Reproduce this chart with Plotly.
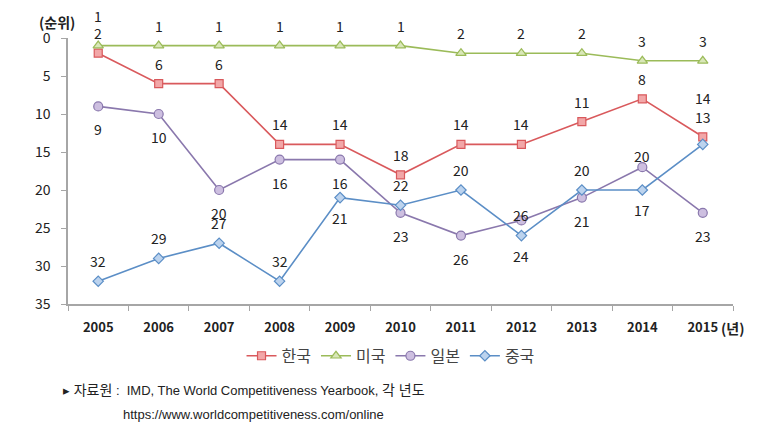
import plotly.graph_objects as go

years = ["2005", "2006", "2007", "2008", "2009", "2010", "2011", "2012", "2013", "2014", "2015"]

korea = [2, 6, 6, 14, 14, 18, 14, 14, 11, 8, 13]
usa = [1, 1, 1, 1, 1, 1, 2, 2, 2, 3, 3]
japan = [9, 10, 20, 16, 16, 23, 26, 24, 21, 17, 23]
china = [32, 29, 27, 32, 21, 22, 20, 26, 20, 20, 14]

korea_labels = ["2", "6", "6", "14", "14", "18", "14", "14", "11", "8", "13"]
usa_labels = ["1", "1", "1", "1", "1", "1", "2", "2", "2", "3", "3"]
japan_labels = ["9", "10", "20", "16", "16", "23", "26", "26", "21", "20", "23"]
china_labels = ["32", "29", "27", "32", "21", "22", "20", "24", "20", "17", "14"]

y_ticks = [0, 5, 10, 15, 20, 25, 30, 35]

FONT = "Noto Sans CJK KR"
NOTE_FONT = "Liberation Sans, Noto Sans CJK KR"

series = [
    dict(name="한국", y=korea, labels=korea_labels, line="#d9595c", fill="#f2a7a8",
         symbol="square", size=8, shift=-20),
    dict(name="미국", y=usa, labels=usa_labels, line="#9bbb59", fill="#d9e7b8",
         symbol="triangle-up", size=9, shift=-20),
    dict(name="일본", y=japan, labels=japan_labels, line="#8a78ad", fill="#cdbfe0",
         symbol="circle", size=9, shift=23),
    dict(name="중국", y=china, labels=china_labels, line="#5b8ec6", fill="#bcd3ee",
         symbol="diamond", size=8, shift=-20),
]

# label placement exceptions (pixel shift from the point; negative = above)
overrides = {
    ("미국", 0): -30,
    ("일본", 7): -5,
    ("일본", 9): -11,
    ("중국", 4): 20,
    ("중국", 7): 20,
    ("중국", 9): 20,
    ("중국", 10): -46,
}

fig = go.Figure()
annotations = []
for s in series:
    fig.add_trace(go.Scatter(
        x=years, y=s["y"], name=s["name"], mode="lines+markers",
        line=dict(color=s["line"], width=1.6),
        marker=dict(symbol=s["symbol"], size=s["size"], color=s["fill"],
                    line=dict(color=s["line"], width=1.2)),
    ))
    for i, (v, t) in enumerate(zip(s["y"], s["labels"])):
        annotations.append(dict(
            x=i, y=v, xref="x", yref="y", text=t, showarrow=False,
            yshift=-overrides.get((s["name"], i), s["shift"]),
            font=dict(family=FONT, size=14, color="#222"),
        ))

K = "<span style='font-size:14px'>{}</span>"
annotations += [
    dict(x=-0.016, y=1.062, xref="paper", yref="paper", text="<b>(순위)</b>",
         xanchor="center", yanchor="middle",
         showarrow=False, font=dict(family=FONT, size=14, color="#222")),
    dict(x=0.979, y=-0.09, xref="paper", yref="paper", text="<b>(년)</b>",
         xanchor="left", yanchor="middle",
         showarrow=False, font=dict(family=FONT, size=14, color="#222")),
    dict(x=-0.011, y=-0.325, xref="paper", yref="paper", xanchor="left", yanchor="middle",
         text="▸ " + K.format("자료원") + " :  IMD, The World Competitiveness Yearbook, "
              + K.format("각 년도"),
         showarrow=False, font=dict(family=NOTE_FONT, size=13, color="#222")),
    dict(x=0.079, y=-0.415, xref="paper", yref="paper", xanchor="left", yanchor="middle",
         text="https://www.worldcompetitiveness.com/online",
         showarrow=False, font=dict(family=NOTE_FONT, size=13, color="#222")),
]

fig.update_layout(
    width=779, height=437,
    margin=dict(l=59.5, r=54, t=30, b=141),
    paper_bgcolor="white", plot_bgcolor="white",
    font=dict(family=FONT, color="#222"),
    showlegend=True,
    legend=dict(orientation="h", x=0.485, xanchor="center", y=-0.195, yanchor="middle",
                font=dict(family=FONT, size=16, color="#444"), itemwidth=30,
                traceorder="normal"),
    annotations=annotations,
    xaxis=dict(type="category", range=[-0.5, 10.5], showline=True, linecolor="#a6a6a6",
               linewidth=1.5, ticks="outside", tickson="boundaries", ticklen=5,
               tickcolor="#a6a6a6", showgrid=False, zeroline=False, ticklabelstandoff=11,
               tickfont=dict(family=FONT, size=13, color="#222", weight="bold")),
    yaxis=dict(range=[35, 0], tickvals=y_ticks, showline=True, linecolor="#a6a6a6",
               linewidth=1.5, ticks="outside", ticklen=5, tickcolor="#a6a6a6",
               showgrid=False, zeroline=False, ticklabelstandoff=8,
               tickfont=dict(family=FONT, size=14, color="#222")),
)

fig.write_html("out.html")
